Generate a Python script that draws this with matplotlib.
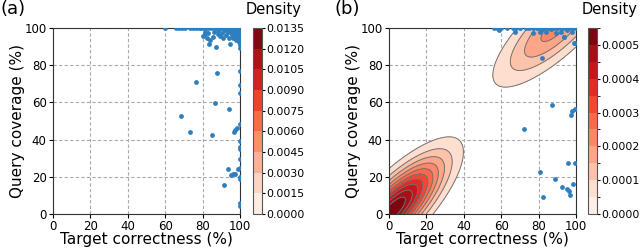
import numpy as np
from matplotlib import pyplot as plt
from matplotlib.colors import ListedColormap, BoundaryNorm
from matplotlib.cm import ScalarMappable

# ======== DATA =========
# panel (a) scatter
a_x = [60, 66, 67.5, 69, 70.5, 73.5, 75, 76.5, 78, 79, 80.5, 82, 83, 84.5, 86, 87, 88,
       89.5, 90.5, 91.5, 92.5, 93.5, 94.5, 95.5, 96.5, 97.5, 98.5, 99.5,
       80.4, 81.2, 82.2, 81.5, 83, 84, 83.6, 85.5, 86, 87, 88, 88.5, 89.5, 90.5, 91,
       92, 92.5, 93.5, 94.7, 94, 95.2, 95.8, 96.2, 96.8, 97.3, 97.8, 98.2, 98.5, 98.8,
       99.2, 99.5, 99.6, 99.7, 99.8, 99.8, 97.5, 98.8, 96.5, 94, 91.5, 89,
       76.6, 87.9, 68.4, 73.1, 85, 86.5, 94, 96.6, 97.5, 98.2, 93.4, 95, 96.4, 97.3,
       91.4, 98.8,
       99.8, 99.8, 99.8, 99.8, 99.8, 99.8, 99.8, 99.8, 99.8, 99.8, 99.8, 99.8, 99.8]
a_y = [100, 100, 100, 100, 100, 100, 100, 100, 100, 100, 100, 100, 100, 100, 100, 100, 100,
       100, 100, 100, 100, 100, 100, 100, 100, 100, 100, 100,
       95.7, 96.5, 94.6, 98, 97.2, 93.4, 91.6, 95, 97.8, 89.8, 96.5, 98.5, 95.8, 97.5, 94.5,
       98.8, 96.2, 97.7, 91.6, 94.8, 98.2, 96.5, 94.5, 97.5, 95.5, 93.5, 98.5, 96.8, 94.8,
       92.5, 97.8, 95.5, 93.5, 91, 89.5, 99, 99.2, 99.5, 99.3, 99.1, 99.3,
       70.8, 75.6, 52.7, 44.1, 42.5, 59.5, 56.3, 43.9, 45.2, 46.1, 24.4, 21, 21.5, 21.5,
       15.8, 24.4,
       77, 69.4, 65.2, 48.2, 39.2, 36.2, 34.8, 29.4, 24.6, 20, 18.7, 5.8, 4.3]

# panel (b) scatter
b_x = [56, 58, 60, 63, 66.5, 68, 70, 73, 75, 77, 79, 81, 83, 85, 86.5, 88, 90, 92, 94, 96,
       98, 99.5,
       58.7, 67.6, 76.8, 81.2, 83.9, 86.5, 89.2, 91.9, 93.6, 95.4, 98, 98.9, 93.8, 80.5,
       87.4, 72.3, 98, 97.2, 99.3, 95.9, 99.5, 80.7, 88.8, 92.4, 95.4, 96.3, 96.6, 98.4,
       82.6, 82, 99.5]
b_y = [100, 100, 100, 100, 100, 100, 100, 100, 100, 100, 100, 100, 100, 100, 100, 100, 100,
       100, 100, 100, 100, 100,
       98.9, 98, 97.5, 98.9, 98, 99.3, 97.1, 98, 95.3, 98.9, 98, 91.8, 95.2, 97.7,
       58.8, 45.5, 55.2, 53.1, 56.7, 27.3, 27.6, 22.8, 18.7, 14.3, 13.4, 12.5, 10.3, 15.9,
       9.3, 83.6, 92]

# density blobs: peak, mean x, mean y, sd x, sd y, correlation
a_blobs = [(0.0132, 101, 101, 3.2, 3.2, 0.4)]
b_blobs = [(0.00054, 2, 2, 17.3, 18, 0.79),
           (0.00022, 90, 101, 20, 19, 0.8)]

a_levels = np.linspace(0, 0.0135, 10)
b_levels = np.linspace(0, 0.00055, 12)
a_ticks = a_levels
b_ticks = [0, 0.0001, 0.0002, 0.0003, 0.0004, 0.0005]


def density(blobs, X, Y):
    Z = np.zeros_like(X)
    for peak, mx, my, sx, sy, rho in blobs:
        dx = (X - mx) / sx
        dy = (Y - my) / sy
        q = (dx**2 - 2 * rho * dx * dy + dy**2) / (1 - rho**2)
        Z += peak * np.exp(-0.5 * q)
    return Z


g = np.linspace(0, 100, 400)
X, Y = np.meshgrid(g, g)

fig = plt.figure(figsize=(6.4, 2.49), dpi=100)

panels = [
    ("(a)", 0.0828, 0.3953, 0.0, 0.428, a_x, a_y, a_blobs, a_levels, a_ticks),
    ("(b)", 0.6078, 0.9188, 0.523, 0.953, b_x, b_y, b_blobs, b_levels, b_ticks),
]

for tag, left, cleft, tagx, densx, xs, ys, blobs, levels, ticks in panels:
    ax = fig.add_axes([left, 0.1406, 0.2922, 0.747])
    cax = fig.add_axes([cleft, 0.1406, 0.0141, 0.747])

    n = len(levels) - 1
    band_colors = plt.get_cmap("Reds")((np.arange(n) + 0.5) / n)

    Z = density(blobs, X, Y)
    ax.contourf(X, Y, Z, levels=levels[1:], colors=band_colors[1:], zorder=1)
    ax.contour(X, Y, Z, levels=levels[1:-1], colors="0.45", linewidths=0.7, zorder=2)
    ax.scatter(xs, ys, s=12, color="#2f7fbf", linewidths=0, zorder=3)

    ax.set_xlim(0, 100)
    ax.set_ylim(0, 100)
    ax.set_xticks(np.arange(0, 101, 20))
    ax.set_yticks(np.arange(0, 101, 20))
    ax.set_axisbelow(True)
    ax.grid(True, color="#aaaaaa", linestyle=(0, (3, 2)), linewidth=0.8)
    ax.tick_params(labelsize=8.5, length=3, width=0.8, pad=1.5)
    ax.set_xlabel("Target correctness (%)", fontsize=11, labelpad=-1)
    ax.set_ylabel("Query coverage (%)", fontsize=11, labelpad=-0.5)
    for s in ax.spines.values():
        s.set_color("#333333")

    sm = ScalarMappable(norm=BoundaryNorm(levels, n), cmap=ListedColormap(band_colors))
    cb = fig.colorbar(sm, cax=cax, ticks=ticks)
    cb.ax.set_yticklabels([f"{t:.4f}" for t in ticks])
    cb.ax.tick_params(labelsize=7.8, length=2.5, width=0.8, pad=0.5)
    cb.outline.set_edgecolor("#555555")
    cb.outline.set_linewidth(0.8)

    fig.text(tagx, 0.962, tag, fontsize=13, va="center", ha="left")
    fig.text(densx, 0.962, "Density", fontsize=10.5, va="center", ha="center")

fig.savefig("out.png", dpi=100)
print("done")
